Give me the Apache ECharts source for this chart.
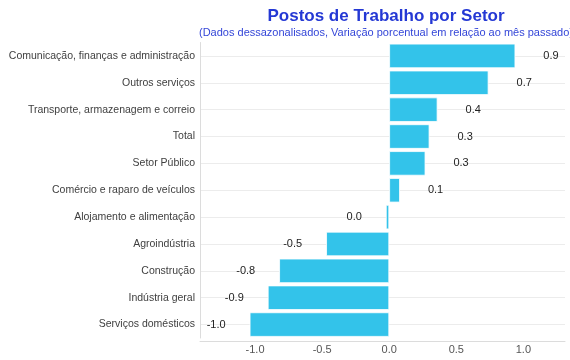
<!DOCTYPE html>
<html>
<head>
<meta charset="utf-8">
<script src="https://cdn.jsdelivr.net/npm/echarts@6/dist/echarts.min.js"></script>
<style>html,body{margin:0;padding:0;background:#fff;}#c{width:570px;height:360px;}</style>
</head>
<body>
<div id="c"></div>
<script>
const categories = [
  "Serviços domésticos",
  "Indústria geral",
  "Construção",
  "Agroindústria",
  "Alojamento e alimentação",
  "Comércio e raparo de veículos",
  "Setor Público",
  "Total",
  "Transporte, armazenagem e correio",
  "Outros serviços",
  "Comunicação, finanças e administração"
];
const values = [-1.04, -0.905, -0.82, -0.47, -0.025, 0.08, 0.27, 0.30, 0.36, 0.74, 0.94];
const xTickValues = [-1.0, -0.5, 0.0, 0.5, 1.0];
const titleText = "Postos de Trabalho por Setor";
const subtitleText = "(Dados dessazonalisados, Variação porcentual em relação ao mês passado)";

const font = "'Liberation Sans', Arial, sans-serif";
const chart = echarts.init(document.getElementById('c'), null, {renderer: 'canvas'});

const barData = values.map(v => ({
  value: v,
  label: {
    position: v >= 0 ? 'right' : 'left',
    distance: v >= 0 ? 28 : 24
  }
}));

chart.setOption({
  animation: false,
  title: [{
    text: titleText,
    left: 381, top: 3, textAlign: 'center',
    textStyle: {fontFamily: font, fontSize: 17, fontWeight: 'bold', color: '#2438d4'}
  }, {
    text: subtitleText,
    left: 381, top: 22, textAlign: 'center',
    textStyle: {fontFamily: font, fontSize: 11, fontWeight: 'normal', color: '#3446d8'}
  }],
  grid: {left: 200, right: 5, top: 42.5, bottom: 22, containLabel: false},
  xAxis: {
    type: 'value',
    min: -1.41, max: 1.31,
    offset: 3,
    axisLine: {show: true, onZero: false, lineStyle: {color: '#dcdcdc', width: 1}},
    axisTick: {show: false},
    splitLine: {show: false},
    axisLabel: {
      customValues: xTickValues,
      formatter: v => v.toFixed(1),
      fontFamily: font, fontSize: 11, color: '#555', margin: 3
    }
  },
  yAxis: {
    type: 'category',
    data: categories,
    axisLine: {show: true, onZero: false, lineStyle: {color: '#dcdcdc', width: 1}},
    axisTick: {show: false},
    splitLine: {show: true, alignWithLabel: true, lineStyle: {color: '#ececec', width: 1}},
    axisLabel: {fontFamily: font, fontSize: 10.5, color: '#404040', margin: 5}
  },
  series: [{
    type: 'bar',
    data: barData,
    barCategoryGap: '9%',
    itemStyle: {color: '#33c3ea', borderColor: '#ffffff', borderWidth: 0.8},
    label: {
      show: true,
      formatter: p => (Math.abs(p.value) < 0.05 ? 0 : p.value).toFixed(1),
      fontFamily: font, fontSize: 11, color: '#222'
    }
  }]
});
</script>
</body>
</html>
